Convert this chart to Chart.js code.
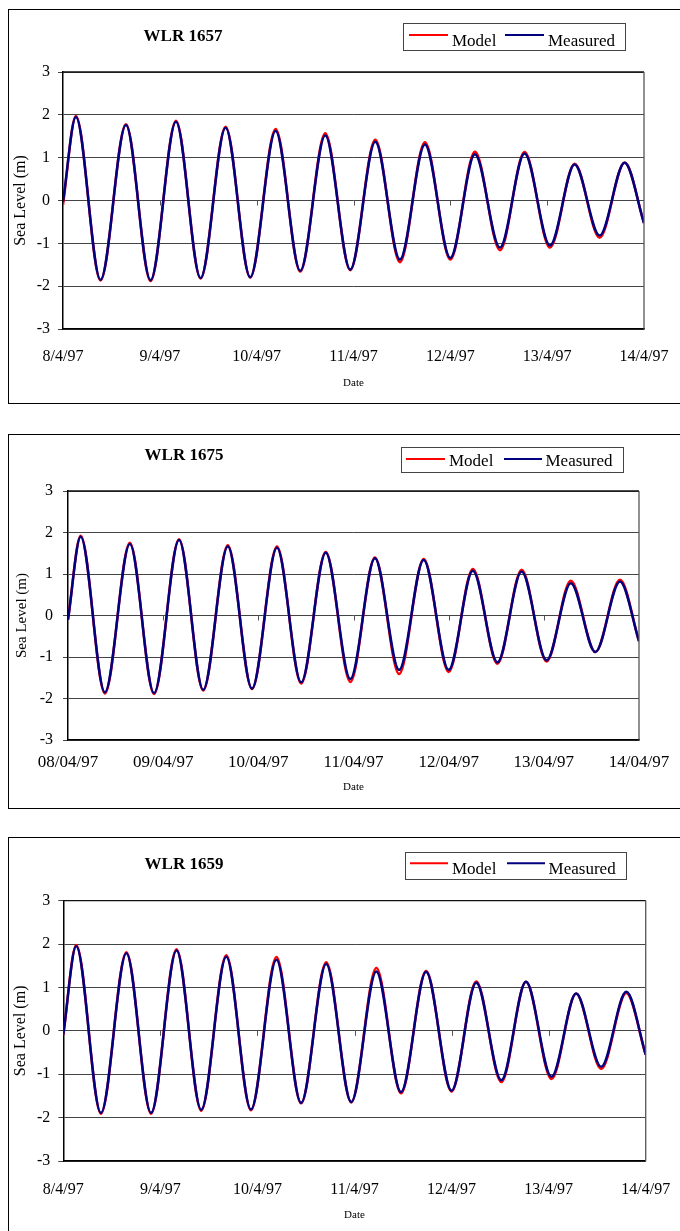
<!DOCTYPE html>
<html>
<head>
<meta charset="utf-8">
<title>Sea level: model vs measured</title>
<script src="https://cdn.jsdelivr.net/npm/chart.js@4.4.1/dist/chart.umd.min.js"></script>
<style>
  html, body { margin: 0; padding: 0; background: #fff; overflow: hidden; width: 680px; height: 1231px; }
  .frame { position: absolute; left: 8px; width: 740px; border: 1px solid #000; box-sizing: border-box; }
  canvas { position: absolute; left: 0; }
</style>
</head>
<body>
<div class="frame" style="top:9px;height:395px"></div>
<div class="frame" style="top:434px;height:375px"></div>
<div class="frame" style="top:837px;height:440px"></div>
<canvas id="c1" width="680" height="420" style="top:0"></canvas>
<canvas id="c2" width="680" height="400" style="top:420px"></canvas>
<canvas id="c3" width="680" height="411" style="top:820px"></canvas>
<script>
// Hours after midnight 8 April 1997 of the start, each high/low water, and the end of the record
const hours = [0, 3.2, 9.3, 15.6, 21.7, 28.0, 34.1, 40.3, 46.4, 52.7, 58.8, 65.0, 71.2,
               77.4, 83.5, 89.7, 96.0, 102.1, 108.3, 114.4, 120.7, 126.8, 133.0, 139.2, 144];

// Daily tick labels
const dateLabelsShort = ['8/4/97', '9/4/97', '10/4/97', '11/4/97', '12/4/97', '13/4/97', '14/4/97'];
const dateLabelsLong  = ['08/04/97', '09/04/97', '10/04/97', '11/04/97', '12/04/97', '13/04/97', '14/04/97'];

// WLR 1657 sea level (m)
const wlr1657Model    = [-0.10, 1.97, -1.87, 1.78, -1.88, 1.86, -1.82, 1.72, -1.80, 1.67, -1.66, 1.57, -1.63,
                         1.42, -1.44, 1.36, -1.38, 1.14, -1.16, 1.13, -1.10, 0.86, -0.87, 0.89, -0.52];
const wlr1657Measured = [-0.03, 1.95, -1.85, 1.76, -1.86, 1.84, -1.81, 1.70, -1.79, 1.62, -1.64, 1.52, -1.61,
                         1.37, -1.38, 1.31, -1.34, 1.08, -1.10, 1.10, -1.05, 0.84, -0.82, 0.88, -0.53];

// WLR 1675 sea level (m)
const wlr1675Model    = [-0.10, 1.92, -1.88, 1.75, -1.89, 1.84, -1.81, 1.69, -1.77, 1.66, -1.64, 1.53, -1.60,
                         1.40, -1.41, 1.36, -1.36, 1.12, -1.16, 1.10, -1.11, 0.84, -0.88, 0.86, -0.62];
const wlr1675Measured = [-0.10, 1.90, -1.85, 1.72, -1.87, 1.82, -1.79, 1.66, -1.76, 1.63, -1.61, 1.51, -1.53,
                         1.38, -1.31, 1.34, -1.31, 1.08, -1.13, 1.06, -1.08, 0.78, -0.88, 0.82, -0.62];

// WLR 1659 sea level (m)
const wlr1659Model    = [-0.10, 1.98, -1.91, 1.81, -1.91, 1.88, -1.84, 1.74, -1.83, 1.70, -1.67, 1.58, -1.65,
                         1.45, -1.44, 1.38, -1.40, 1.14, -1.18, 1.13, -1.11, 0.86, -0.88, 0.87, -0.55];
const wlr1659Measured = [-0.08, 1.95, -1.89, 1.79, -1.89, 1.85, -1.82, 1.71, -1.81, 1.64, -1.66, 1.54, -1.64,
                         1.37, -1.41, 1.36, -1.38, 1.11, -1.14, 1.13, -1.06, 0.86, -0.83, 0.90, -0.55];

const seriesNames = ['Model', 'Measured'];
const seriesColors = ['#ff0000', '#000080'];

const SERIF = '"Liberation Serif", "Times New Roman", Times, serif';
Chart.defaults.font.family = SERIF;
Chart.defaults.color = '#000';

function toPoints(values) {
  return hours.map((h, i) => ({ x: h, y: values[i] }));
}

// Station title, boxed legend, plot frame and the small day marks on the zero line
const decorations = {
  id: 'decorations',
  beforeDatasetsDraw(chart, args, opts) {
    const { ctx, scales } = chart;
    const y0 = scales.y.getPixelForValue(0);
    ctx.save();
    ctx.strokeStyle = '#555';
    ctx.lineWidth = 1;
    for (let h = 24; h < 144; h += 24) {
      const x = Math.round(scales.x.getPixelForValue(h)) + 0.5;
      ctx.beginPath();
      ctx.moveTo(x, y0);
      ctx.lineTo(x, y0 + 5);
      ctx.stroke();
    }
    ctx.restore();
  },
  afterDraw(chart, args, opts) {
    const { ctx, chartArea: a } = chart;
    ctx.save();
    // frame: top and right edges
    ctx.lineWidth = 1.3;
    ctx.strokeStyle = '#111';
    ctx.beginPath();
    ctx.moveTo(a.left, a.top);
    ctx.lineTo(a.right, a.top);
    ctx.stroke();
    ctx.strokeStyle = '#555';
    ctx.beginPath();
    ctx.moveTo(a.right, a.top);
    ctx.lineTo(a.right, a.bottom);
    ctx.stroke();

    // title
    ctx.fillStyle = '#000';
    ctx.font = 'bold ' + opts.titleSize + 'px ' + SERIF;
    ctx.textAlign = 'center';
    ctx.textBaseline = 'middle';
    ctx.fillText(opts.title, opts.titleX, opts.titleY);

    // legend
    const L = opts.legend;
    ctx.strokeStyle = '#444';
    ctx.lineWidth = 1;
    ctx.strokeRect(L.x + 0.5, L.y + 0.5, L.w, L.h);
    ctx.font = L.fontSize + 'px ' + SERIF;
    ctx.textAlign = 'left';
    ctx.textBaseline = 'alphabetic';
    chart.data.datasets.forEach((ds, i) => {
      const e = L.entries[i];
      ctx.strokeStyle = ds.borderColor;
      ctx.lineWidth = 2;
      ctx.beginPath();
      ctx.moveTo(e.x1, L.lineY);
      ctx.lineTo(e.x2, L.lineY);
      ctx.stroke();
      ctx.fillStyle = '#000';
      ctx.fillText(ds.label, e.tx, L.baseY);
    });
    ctx.restore();
  }
};

function makeChart(id, p) {
  const datasets = [p.model, p.measured].map((vals, i) => ({
    label: seriesNames[i],
    data: toPoints(vals),
    borderColor: seriesColors[i],
    backgroundColor: seriesColors[i],
    borderWidth: 2.5,
    pointRadius: 0,
    fill: false,
    cubicInterpolationMode: 'monotone',
    order: i === 0 ? 1 : 0
  }));

  return new Chart(document.getElementById(id), {
    type: 'line',
    data: { datasets },
    plugins: [decorations],
    options: {
      responsive: false,
      animation: false,
      events: [],
      layout: { padding: p.padding, autoPadding: false },
      plugins: {
        legend: { display: false },
        title: { display: false },
        tooltip: { enabled: false },
        decorations: p.deco
      },
      scales: {
        x: {
          type: 'linear',
          min: 0,
          max: 144,
          grid: { display: false, drawTicks: false },
          border: { display: true, color: '#000', width: 1.5 },
          ticks: {
            stepSize: 24,
            autoSkip: false,
            maxRotation: 0,
            padding: p.xTickPad,
            font: { size: p.xTickSize },
            color: '#000',
            callback: (v) => p.dateLabels[Math.round(v / 24)]
          },
          title: {
            display: true,
            text: 'Date',
            font: { size: 11 },
            color: '#000',
            padding: { top: 0, bottom: p.xTitlePad }
          },
          afterFit: (s) => {
            s.height = p.xHeight;
            s.paddingLeft = 0;
            s.paddingRight = 0;
          }
        },
        y: {
          min: -3,
          max: 3,
          grid: { color: '#444', lineWidth: 1, tickLength: 5, drawTicks: true },
          border: { display: true, color: '#000', width: 1.5 },
          ticks: {
            stepSize: 1,
            padding: p.yTickPad,
            font: { size: 16 },
            color: '#000'
          },
          title: {
            display: true,
            text: 'Sea Level (m)',
            font: { size: p.yTitleSize },
            color: '#000',
            padding: { top: p.yTitlePad, bottom: 0 }
          },
          afterFit: (s) => {
            s.width = p.yWidth;
            s.paddingTop = 0;
            s.paddingBottom = 0;
          }
        }
      }
    }
  });
}

makeChart('c1', {
  model: wlr1657Model, measured: wlr1657Measured, dateLabels: dateLabelsShort,
  padding: { left: 2, right: 36, top: 72, bottom: 20 },
  yWidth: 61, xHeight: 71, xTickPad: 18.4, xTickSize: 16, xTitlePad: 10.4,
  yTickPad: 8, yTitleSize: 16, yTitlePad: 9.4,
  deco: {
    title: 'WLR 1657', titleSize: 17, titleX: 183, titleY: 36.7,
    legend: { x: 403, y: 23, w: 222, h: 27, fontSize: 17, lineY: 35, baseY: 45.5,
              entries: [{ x1: 409, x2: 448, tx: 452 }, { x1: 505, x2: 544, tx: 548 }] }
  }
});

makeChart('c2', {
  model: wlr1675Model, measured: wlr1675Measured, dateLabels: dateLabelsLong,
  padding: { left: 2, right: 41, top: 71, bottom: 20 },
  yWidth: 66, xHeight: 60, xTickPad: 12.8, xTickSize: 17, xTitlePad: 6.7,
  yTickPad: 10, yTitleSize: 15, yTitlePad: 10.7,
  deco: {
    title: 'WLR 1675', titleSize: 17, titleX: 184, titleY: 35.7,
    legend: { x: 401, y: 27, w: 222, h: 25, fontSize: 17, lineY: 39, baseY: 45.7,
              entries: [{ x1: 406, x2: 445, tx: 449 }, { x1: 504, x2: 542, tx: 545.5 }] }
  }
});

makeChart('c3', {
  model: wlr1659Model, measured: wlr1659Measured, dateLabels: dateLabelsShort,
  padding: { left: 2, right: 34.3, top: 80.7, bottom: 5 },
  yWidth: 61.3, xHeight: 65, xTickPad: 18.7, xTickSize: 16, xTitlePad: 4.4,
  yTickPad: 8, yTitleSize: 16, yTitlePad: 9.1,
  deco: {
    title: 'WLR 1659', titleSize: 17, titleX: 184, titleY: 44.3,
    legend: { x: 405, y: 32, w: 221, h: 27, fontSize: 17, lineY: 43.3, baseY: 54,
              entries: [{ x1: 410, x2: 448, tx: 452 }, { x1: 507, x2: 545, tx: 548.6 }] }
  }
});
</script>
</body>
</html>
